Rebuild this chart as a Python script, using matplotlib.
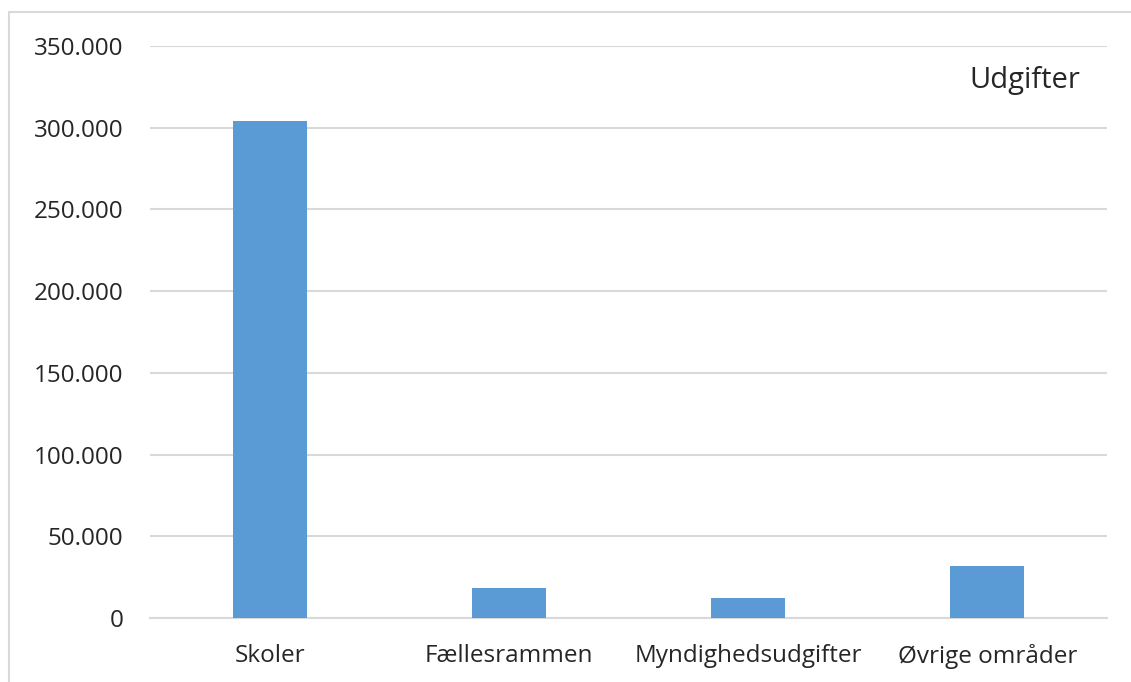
import matplotlib

matplotlib.use("Agg")
import matplotlib.pyplot as plt
from matplotlib.patches import Rectangle
from matplotlib.ticker import FuncFormatter, MultipleLocator

CATEGORIES = ["Skoler", "Fællesrammen", "Myndighedsudgifter", "Øvrige områder"]
UDGIFTER = [304000, 18400, 12200, 31800]
SERIES_LABEL = "Udgifter"

BAR_COLOR = "#5B9BD5"
GRID_COLOR = "#D9D9D9"
TEXT_COLOR = "#262626"

plt.rcParams["font.family"] = ["Open Sans", "DejaVu Sans"]


def _danish_thousands(value: float, _pos: int) -> str:
    return f"{int(round(value)):,}".replace(",", ".")


fig = plt.figure(figsize=(11.31, 6.82), dpi=100)
fig.patches.append(Rectangle((0.008, -0.01), 1.1, 0.993, transform=fig.transFigure,
                             fill=False, edgecolor=GRID_COLOR, linewidth=1.5))
ax = fig.add_axes([0.1326, 0.0938, 0.8462, 0.8388])

x_values = list(range(len(CATEGORIES)))
ax.bar(x_values, UDGIFTER, width=0.31, color=BAR_COLOR, zorder=3)

ax.set_xlim(-0.5, len(CATEGORIES) - 0.5)
ax.set_ylim(0, 350000)
ax.yaxis.set_major_locator(MultipleLocator(50000))
ax.yaxis.set_major_formatter(FuncFormatter(_danish_thousands))
ax.set_xticks(x_values)
ax.set_xticklabels(CATEGORIES)

ax.grid(axis="y", color=GRID_COLOR, linewidth=1.5, zorder=0)
for side in ("top", "right", "left"):
    ax.spines[side].set_visible(False)
ax.spines["bottom"].set_color(GRID_COLOR)
ax.spines["bottom"].set_linewidth(1.5)
ax.tick_params(axis="both", length=0, labelsize=17.5, colors=TEXT_COLOR)
ax.tick_params(axis="y", pad=19)
ax.tick_params(axis="x", pad=19)

fig.text(0.955, 0.882, SERIES_LABEL, ha="right", va="center", fontsize=21, color=TEXT_COLOR)

fig.savefig("out.png", dpi=100)
plt.close(fig)
